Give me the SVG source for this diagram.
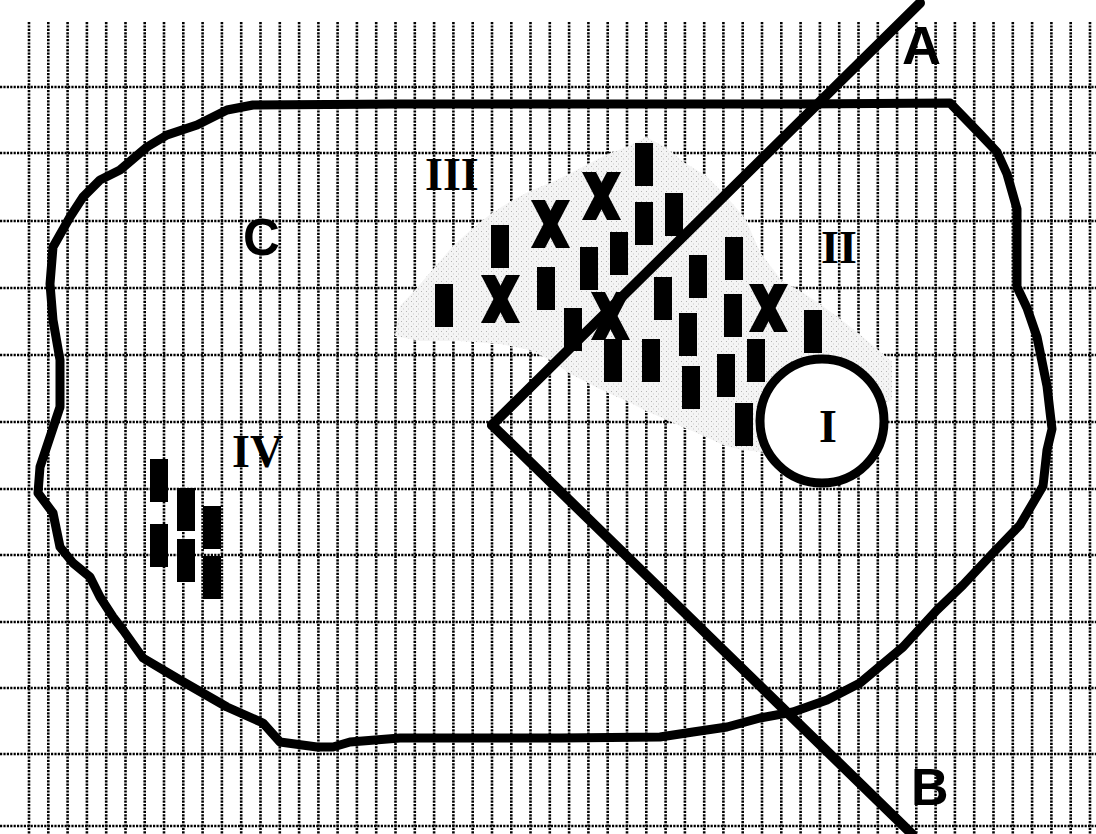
<svg xmlns="http://www.w3.org/2000/svg" width="1096" height="834" viewBox="0 0 1096 834">
<style>
.grid{fill:none;stroke:#000;stroke-width:2.6;stroke-dasharray:2.2 1.2}
.bold{fill:none;stroke:#000;stroke-linejoin:round;stroke-linecap:round}
.num{font-family:"Liberation Serif","Times New Roman",serif;font-weight:bold;font-size:46px;fill:#000}
.let{font-family:"Liberation Sans",Arial,sans-serif;font-weight:bold;fill:#000}
</style>
<defs>
<pattern id="stip" width="5" height="5" patternUnits="userSpaceOnUse">
<rect x="1" y="1" width="1" height="1" fill="#b5b5b5"/>
<rect x="3" y="3.5" width="1" height="1" fill="#c8c8c8"/>
</pattern>
<symbol id="xm" viewBox="0 0 39 48" width="39" height="48">
<polygon points="0,0 14,0 39,48 25,48" fill="#000"/>
<polygon points="25,0 39,0 14,48 0,48" fill="#000"/>
</symbol>
<symbol id="br" viewBox="0 0 18 43" width="18" height="43">
<rect x="0" y="0" width="18" height="43" fill="#000"/>
</symbol>
</defs>
<rect width="1096" height="834" fill="#fff"/>
<g id="grid">
<path class="grid" d="M29 22V834M48.3 22V834M67.6 22V834M86.9 22V834M106.2 22V834M125.5 22V834M144.7 22V834M164 22V834M183.3 22V834M202.6 22V834M221.9 22V834M241.2 22V834M260.5 22V834M279.8 22V834M299.1 22V834M318.4 22V834M337.6 22V834M356.9 22V834M376.2 22V834M395.5 22V834M414.8 22V834M434.1 22V834M453.4 22V834M472.7 22V834M492 22V834M511.3 22V834M530.5 22V834M549.8 22V834M569.1 22V834M588.4 22V834M607.7 22V834M627 22V834M646.3 22V834M665.6 22V834M684.9 22V834M704.2 22V834M723.4 22V834M742.7 22V834M762 22V834M781.3 22V834M800.6 22V834M819.9 22V834M839.2 22V834M858.5 22V834M877.8 22V834M897.1 22V834M916.3 22V834M935.6 22V834M954.9 22V834M974.2 22V834M993.5 22V834M1012.8 22V834M1032.1 22V834M1051.4 22V834M1070.7 22V834M1090 22V834"/>
<path class="grid" d="M0 87H1096M0 153H1096M0 221H1096M0 288H1096M0 355H1096M0 422H1096M0 489H1096M0 555H1096M0 622H1096M0 688H1096M0 754H1096M0 826H1096"/>
</g>
<g id="cloud">
<path d="M395,336 L400,306 L415,290 L434,268 L453,246 L473,228 L492,213 L511,201 L530,191 L550,183 L569,174 L588,164 L608,154 L627,147 L646,137 L665,147 L685,163 L705,175 L725,195 L745,218 L760,252 L781,280 L800,291 L820,304 L839,318 L858,333 L877,349 L892,362 L892,400 L800,440 L762,452 L742,450 L723,445 L704,436 L685,428 L665,419 L646,411 L627,401 L608,393 L588,383 L569,373 L550,360 L530,350 L500,344 L460,341 L420,341 Z" fill="#f4f4f4"/>
<path d="M395,336 L400,306 L415,290 L434,268 L453,246 L473,228 L492,213 L511,201 L530,191 L550,183 L569,174 L588,164 L608,154 L627,147 L646,137 L665,147 L685,163 L705,175 L725,195 L745,218 L760,252 L781,280 L800,291 L820,304 L839,318 L858,333 L877,349 L892,362 L892,400 L800,440 L762,452 L742,450 L723,445 L704,436 L685,428 L665,419 L646,411 L627,401 L608,393 L588,383 L569,373 L550,360 L530,350 L500,344 L460,341 L420,341 Z" fill="url(#stip)"/>
</g>
<g id="region-C">
<path class="bold" stroke-width="9" d="M90,577 L73,563 L60,547 L53,513 L38,493 L40,467 L50,437 L60,407 L60,360 L53,320 L50,284 L53,247 L70,217 L83,197 L100,180 L120,170 L147,147 L167,135 L197,125 L227,110 L253,105 L400,104 L600,104 L800,104 L950,103 L980,134 L997,152 L1007,174 L1017,209 L1017,287 L1027,308 L1037,337 L1047,386 L1052,429 L1047,450 L1043,486 L1020,525 L993,553 L963,585 L937,610 L903,647 L860,683 L827,700 L793,712 L760,718 L727,727 L693,732 L660,737 L560,738 L400,738 L350,742 L333,747 L317,747 L280,742 L263,723 L227,707 L180,680 L143,658 L123,630 L113,617 L100,597 Z"/>
<text class="let" x="243" y="255" font-size="51">C</text>
</g>
<g id="connectors">
<path id="line-A" class="bold" stroke-width="10" stroke-linecap="butt" d="M492,425 L920,3"/>
<path id="line-B" class="bold" stroke-width="10" stroke-linecap="butt" d="M492,425 L912,834"/>
</g>
<g id="label-A"><text class="let" x="902" y="64" font-size="54">A</text></g>
<g id="label-B"><text class="let" x="911" y="805" font-size="52">B</text></g>
<g id="zone-I">
<circle cx="822" cy="421" r="62" fill="#fff" stroke="#000" stroke-width="9"/>
<text class="num" x="819" y="442">I</text>
</g>
<g id="zone-II"><text class="num" x="821" y="263">II</text></g>
<g id="zone-III"><text class="num" x="425" y="190">III</text></g>
<g id="zone-IV"><text class="num" x="232" y="467">IV</text></g>
<g id="marks-III-II">
<use href="#br" x="635" y="143"/>
<use href="#br" x="635" y="202"/>
<use href="#br" x="665" y="193"/>
<use href="#br" x="491" y="225"/>
<use href="#br" x="610" y="232"/>
<use href="#br" x="580" y="247"/>
<use href="#br" x="537" y="267"/>
<use href="#br" x="435" y="284"/>
<use href="#br" x="725" y="237"/>
<use href="#br" x="689" y="255"/>
<use href="#br" x="654" y="277"/>
<use href="#br" x="564" y="308"/>
<use href="#br" x="724" y="294"/>
<use href="#br" x="679" y="313"/>
<use href="#br" x="804" y="310"/>
<use href="#br" x="604" y="339"/>
<use href="#br" x="642" y="339"/>
<use href="#br" x="747" y="339"/>
<use href="#br" x="682" y="366"/>
<use href="#br" x="717" y="354"/>
<use href="#br" x="735" y="403"/>
<use href="#xm" x="582" y="172"/>
<use href="#xm" x="531" y="200"/>
<use href="#xm" x="481" y="275"/>
<use href="#xm" x="591" y="292"/>
<use href="#xm" x="749" y="284"/>
</g>
<g id="marks-IV">
<use href="#br" x="150" y="459"/>
<use href="#br" x="177" y="488"/>
<use href="#br" x="203" y="506"/>
<use href="#br" x="150" y="524"/>
<use href="#br" x="177" y="539"/>
<use href="#br" x="203" y="556"/>
</g>
</svg>
